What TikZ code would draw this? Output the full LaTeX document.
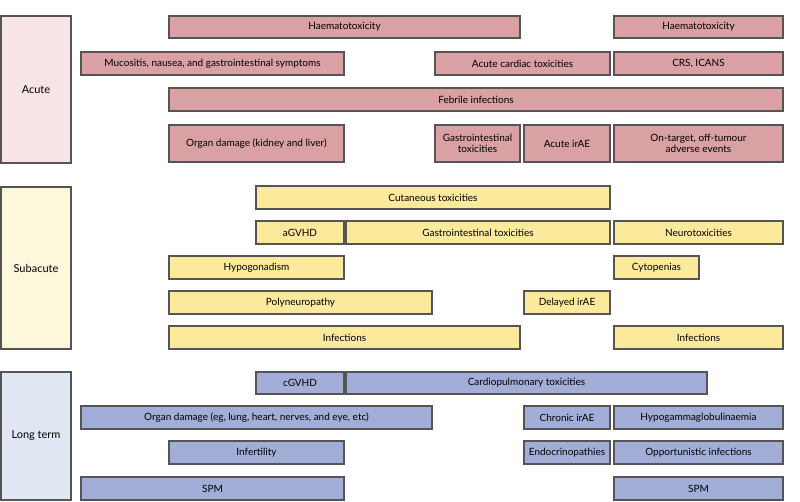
\documentclass[tikz,border=0pt]{standalone}
\usepackage{fontspec}
\setmainfont{Lato}
\definecolor{rf}{HTML}{D9A1A3}
\definecolor{yf}{HTML}{FBE99C}
\definecolor{bf}{HTML}{A3AED8}
\definecolor{rl}{HTML}{F6E4E6}
\definecolor{yl}{HTML}{FDF7DC}
\definecolor{bl}{HTML}{E2E8F3}
\definecolor{bd}{HTML}{555555}
\tikzset{
 bx/.style={draw=bd,line width=1.2pt,inner sep=0pt,font=\fontsize{10}{11}\selectfont,align=center},
 red/.style={bx,fill=rf},yel/.style={bx,fill=yf},blu/.style={bx,fill=bf},
 lr/.style={bx,fill=rl,font=\fontsize{11}{12}\selectfont},
 ly/.style={bx,fill=yl,font=\fontsize{11}{12}\selectfont},
 lb/.style={bx,fill=bl,font=\fontsize{11}{12}\selectfont}}
\newcommand{\bbx}[7]{\node[#6,minimum width=#4-#2,minimum height=#5-#3] (#1) at ({(#2+#4)/2},{(#3+#5)/2}) {#7};}
\begin{document}
\begin{tikzpicture}[x=1pt,y=-1pt]
\useasboundingbox (0,0) rectangle (800,501);
\bbx{acute}{1}{16}{71}{163}{lr}{Acute}
\bbx{sub}{1}{187}{71}{349}{ly}{Subacute}
\bbx{long}{1}{372}{71}{500}{lb}{Long term}
% acute
\bbx{a1}{169}{16}{520}{38}{red}{Haematotoxicity}
\bbx{a2}{614}{16}{783}{38}{red}{Haematotoxicity}
\bbx{a3}{81}{52}{344}{75}{red}{Mucositis, nausea, and gastrointestinal symptoms}
\bbx{a4}{435}{52}{610}{75}{red}{Acute cardiac toxicities}
\bbx{a5}{614}{52}{783}{75}{red}{CRS, ICANS}
\bbx{a6}{169}{88}{783}{111}{red}{Febrile infections}
\bbx{a7}{169}{125}{344}{162}{red}{Organ damage (kidney and liver)}
\bbx{a8}{435}{125}{520}{162}{red}{Gastrointestinal\\toxicities}
\bbx{a9}{524}{125}{610}{162}{red}{Acute irAE}
\bbx{a10}{614}{125}{783}{162}{red}{On-target, off-tumour\\adverse events}
% subacute
\bbx{s1}{256}{186}{610}{209}{yel}{Cutaneous toxicities}
\bbx{s2}{256}{221}{344}{244}{yel}{aGVHD}
\bbx{s3}{346}{221}{610}{244}{yel}{Gastrointestinal toxicities}
\bbx{s4}{614}{221}{783}{244}{yel}{Neurotoxicities}
\bbx{s5}{169}{256}{344}{279}{yel}{Hypogonadism}
\bbx{s6}{614}{256}{699}{279}{yel}{Cytopenias}
\bbx{s7}{169}{291}{432}{314}{yel}{Polyneuropathy}
\bbx{s8}{524}{291}{610}{314}{yel}{Delayed irAE}
\bbx{s9}{169}{326}{520}{349}{yel}{Infections}
\bbx{s10}{614}{326}{783}{349}{yel}{Infections}
% long term
\bbx{l1}{256}{372}{344}{394}{blu}{cGVHD}
\bbx{l2}{346}{372}{707}{394}{blu}{Cardiopulmonary toxicities}
\bbx{l3}{81}{406}{432}{429}{blu}{Organ damage (eg, lung, heart, nerves, and eye, etc)}
\bbx{l4}{524}{406}{610}{429}{blu}{Chronic irAE}
\bbx{l5}{614}{406}{783}{429}{blu}{Hypogammaglobulinaemia}
\bbx{l6}{169}{441}{344}{464}{blu}{Infertility}
\bbx{l7}{524}{441}{610}{464}{blu}{Endocrinopathies}
\bbx{l8}{614}{441}{783}{464}{blu}{Opportunistic infections}
\bbx{l9}{81}{477}{344}{500}{blu}{SPM}
\bbx{l10}{614}{477}{783}{500}{blu}{SPM}
\end{tikzpicture}
\end{document}
